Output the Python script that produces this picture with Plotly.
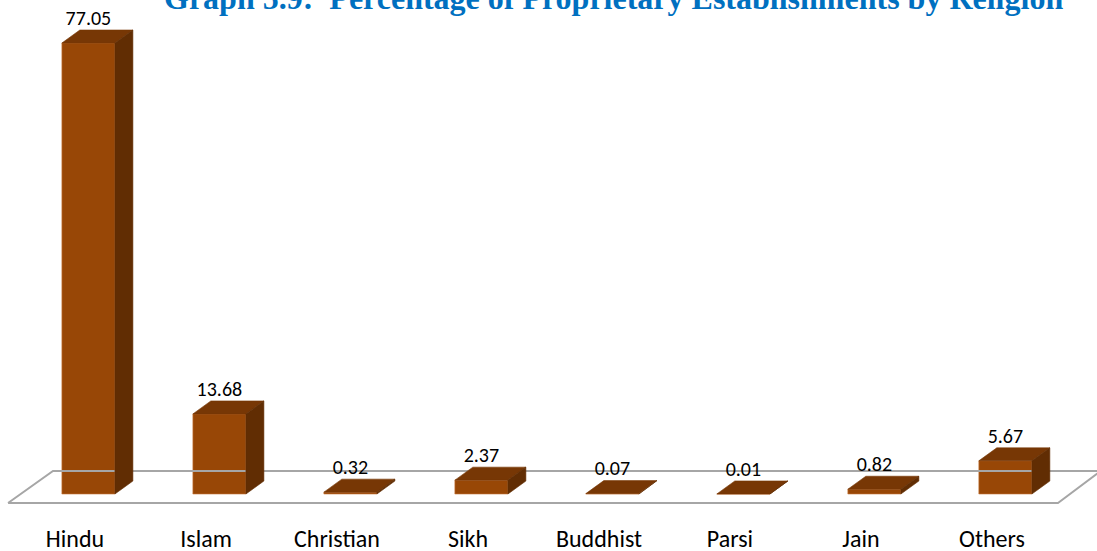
import plotly.graph_objects as go

# data
religions = ["Hindu", "Islam", "Christian", "Sikh", "Buddhist", "Parsi", "Jain", "Others"]
shares = [77.05, 13.68, 0.32, 2.37, 0.07, 0.01, 0.82, 5.67]
value_text = ["77.05", "13.68", "0.32", "2.37", "0.07", "0.01", "0.82", "5.67"]

title_text = "Graph 5.9:  Percentage of Proprietary Establishments by Religion"

############################### fake 3d look ###################################

front_color = "#984706"
top_color = "#773705"
side_color = "#612d03"
floor_color = "#a6a6a6"

bar_width = 0.405
bar_offset = -0.10
depth_x = 0.137   # sideways shift of the back edge, in x units
depth_y = 2.22    # upward shift of the back edge, in y units

idx = list(range(len(religions)))

fig = go.Figure()

# floor of the 3d plot
floor_x = [-0.511, -0.168, 7.83, 7.504, -0.511]
floor_y = [-1.54, 3.93, 3.93, -1.54, -1.54]
fig.add_trace(go.Scatter(x=floor_x, y=floor_y, mode="lines",
                         line={"color": floor_color, "width": 2},
                         hoverinfo="skip", showlegend=False))

# front faces
fig.add_trace(go.Bar(x=idx, y=shares, width=bar_width, offset=bar_offset,
                     marker={"color": front_color, "line": {"color": "#c8773a", "width": 0.6}},
                     hovertext=religions, showlegend=False))

# top and side faces
for i, v in zip(idx, shares):
    x0 = i + bar_offset
    x1 = x0 + bar_width
    fig.add_trace(go.Scatter(
        x=[x0, x1, x1 + depth_x, x0 + depth_x, x0],
        y=[v, v, v + depth_y, v + depth_y, v],
        mode="lines", fill="toself", fillcolor=top_color,
        line={"color": top_color, "width": 0.6},
        hoverinfo="skip", showlegend=False))
    fig.add_trace(go.Scatter(
        x=[x1, x1 + depth_x, x1 + depth_x, x1, x1],
        y=[0, depth_y, v + depth_y, v, 0],
        mode="lines", fill="toself", fillcolor=side_color,
        line={"color": side_color, "width": 0.6},
        hoverinfo="skip", showlegend=False))

# value labels
fig.add_trace(go.Scatter(
    x=[i + bar_offset + bar_width / 2 for i in idx],
    y=[v + depth_y + 1.75 for v in shares],
    mode="text", text=value_text,
    textfont={"family": "Calibri, Carlito, Lato, sans-serif", "size": 20, "color": "black"},
    hoverinfo="skip", showlegend=False))

############################### layout ###################################

# title sits partly above the top edge, as in the reference
fig.add_annotation(text="<b>" + title_text + "</b>", xref="paper", yref="paper",
                   x=0.559, y=1.004, xanchor="center", yanchor="middle", showarrow=False,
                   font={"family": "Times New Roman, Liberation Serif, serif", "size": 32,
                         "color": "#0070c0"})

fig.update_layout(
    width=1097, height=551,
    margin={"l": 0, "r": 0, "t": 0, "b": 31, "pad": 0},
    paper_bgcolor="white", plot_bgcolor="white",
    xaxis={"range": [-0.5725, 7.802], "tickvals": idx, "ticktext": religions,
           "showgrid": False, "zeroline": False, "showline": False, "ticks": "",
           "automargin": False, "ticklabelstandoff": 2,
           "tickfont": {"family": "Calibri, Carlito, Lato, sans-serif", "size": 24, "color": "black"}},
    yaxis={"range": [-4.44, 84.40], "visible": False, "automargin": False},
)

# drop the browser's default 8px body margin so the chart fills the window
fig.write_html("out.html", config={"displayModeBar": False},
               post_script="document.body.style.margin='0';")
